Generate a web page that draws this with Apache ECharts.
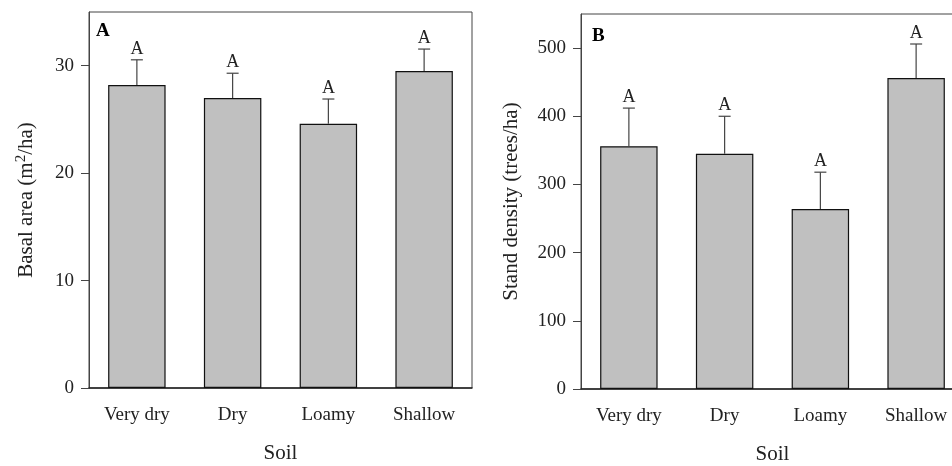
<!DOCTYPE html>
<html><head><meta charset="utf-8">
<script src="https://cdn.jsdelivr.net/npm/echarts@6/dist/echarts.min.js"></script>
<style>html,body{margin:0;padding:0;background:#fff;overflow:hidden}#c{width:952px;height:466px}</style>
</head><body><div id="c"></div>
<script>
const categories = ['Very dry', 'Dry', 'Loamy', 'Shallow'];
const basalArea = [28.2, 27.0, 24.6, 29.5];
const basalAreaSE = [2.35, 2.3, 2.3, 2.05];
const basalLetters = ['A', 'A', 'A', 'A'];
const basalTicks = [0, 10, 20, 30];
const density = [356, 345, 264, 456];
const densitySE = [56, 55, 54, 50];
const densityLetters = ['A', 'A', 'A', 'A'];
const densityTicks = [0, 100, 200, 300, 400, 500];

const FONT = 'Liberation Serif';
const FS = 19;
const NFS = 21;
const ink = '#222';
const errInk = '#444';

function errData(vals, se) { return vals.map((v, i) => [i, v, v + se[i]]); }
function errRender(letters) {
  return function (params, api) {
    const i = api.value(0), v = api.value(1), t = api.value(2);
    const p0 = api.coord([i, v]), p1 = api.coord([i, t]);
    return { type: 'group', children: [
      { type: 'line', shape: { x1: p0[0], y1: p0[1], x2: p1[0], y2: p1[1] }, style: { stroke: errInk, lineWidth: 1.2 } },
      { type: 'line', shape: { x1: p1[0] - 6, y1: p1[1], x2: p1[0] + 6, y2: p1[1] }, style: { stroke: errInk, lineWidth: 1.2 } },
      { type: 'text', style: { text: letters[params.dataIndex], x: p1[0], y: p1[1] - 2, align: 'center', verticalAlign: 'bottom', fontFamily: FONT, fontSize: 18, fill: ink } }
    ] };
  };
}
function xAx(idx) {
  return { type: 'category', gridIndex: idx, data: categories, boundaryGap: true,
    axisLine: { lineStyle: { color: ink, width: 1.5 } },
    axisTick: { alignWithLabel: true, length: 5, lineStyle: { color: '#555' } },
    axisLabel: { color: ink, fontFamily: FONT, fontSize: FS, margin: 18 },
    name: 'Soil', nameLocation: 'middle', nameGap: 55,
    nameTextStyle: { color: ink, fontFamily: FONT, fontSize: NFS } };
}
function yAx(idx, max, ticks, name, gap, rich) {
  return { type: 'value', gridIndex: idx, min: 0, max: max, interval: ticks[1] - ticks[0],
    splitLine: { show: false },
    axisLine: { show: true, lineStyle: { color: '#444' } },
    axisTick: { show: true, length: 8, customValues: ticks, lineStyle: { color: '#444' } },
    axisLabel: { color: ink, fontFamily: FONT, fontSize: FS, margin: 15, customValues: ticks },
    name: name, nameLocation: 'middle', nameGap: gap,
    nameTextStyle: Object.assign({ color: ink, fontFamily: FONT, fontSize: NFS }, rich ? { rich: rich } : {}) };
}
const chart = echarts.init(document.getElementById('c'), null, { renderer: 'canvas' });
const rich = {
  a: { fontFamily: FONT, fontSize: NFS, color: ink },
  s: { fontFamily: FONT, fontSize: 15, color: ink, verticalAlign: 'top', padding: [0, 0, 10, 0] }
};
chart.setOption({
  animation: false,
  backgroundColor: '#fff',
  grid: [
    { left: 89, width: 383, top: 12, bottom: 78, show: true, borderColor: '#444', borderWidth: 1, outerBoundsMode: 'none', containLabel: false },
    { left: 581, width: 383, top: 14, bottom: 77, show: true, borderColor: '#444', borderWidth: 1, outerBoundsMode: 'none', containLabel: false }
  ],
  xAxis: [xAx(0), xAx(1)],
  yAxis: [
    yAx(0, 35, basalTicks, '{a|Basal area (m}{s|2}{a|/ha)}', 50, rich),
    yAx(1, 550, densityTicks, 'Stand density (trees/ha)', 59, null)
  ],
  graphic: [
    { type: 'text', left: 96, top: 22, style: { text: 'A', fontFamily: FONT, fontSize: 19, fontWeight: 'bold', fill: '#000' } },
    { type: 'text', left: 592, top: 27, style: { text: 'B', fontFamily: FONT, fontSize: 19, fontWeight: 'bold', fill: '#000' } }
  ],
  series: [
    { type: 'bar', xAxisIndex: 0, yAxisIndex: 0, data: basalArea, barWidth: '60%',
      itemStyle: { color: '#c0c0c0', borderColor: '#111', borderWidth: 1.2 } },
    { type: 'custom', xAxisIndex: 0, yAxisIndex: 0, data: errData(basalArea, basalAreaSE), renderItem: errRender(basalLetters), z: 3 },
    { type: 'bar', xAxisIndex: 1, yAxisIndex: 1, data: density, barWidth: '60%',
      itemStyle: { color: '#c0c0c0', borderColor: '#111', borderWidth: 1.2 } },
    { type: 'custom', xAxisIndex: 1, yAxisIndex: 1, data: errData(density, densitySE), renderItem: errRender(densityLetters), z: 3 }
  ]
});
</script></body></html>
